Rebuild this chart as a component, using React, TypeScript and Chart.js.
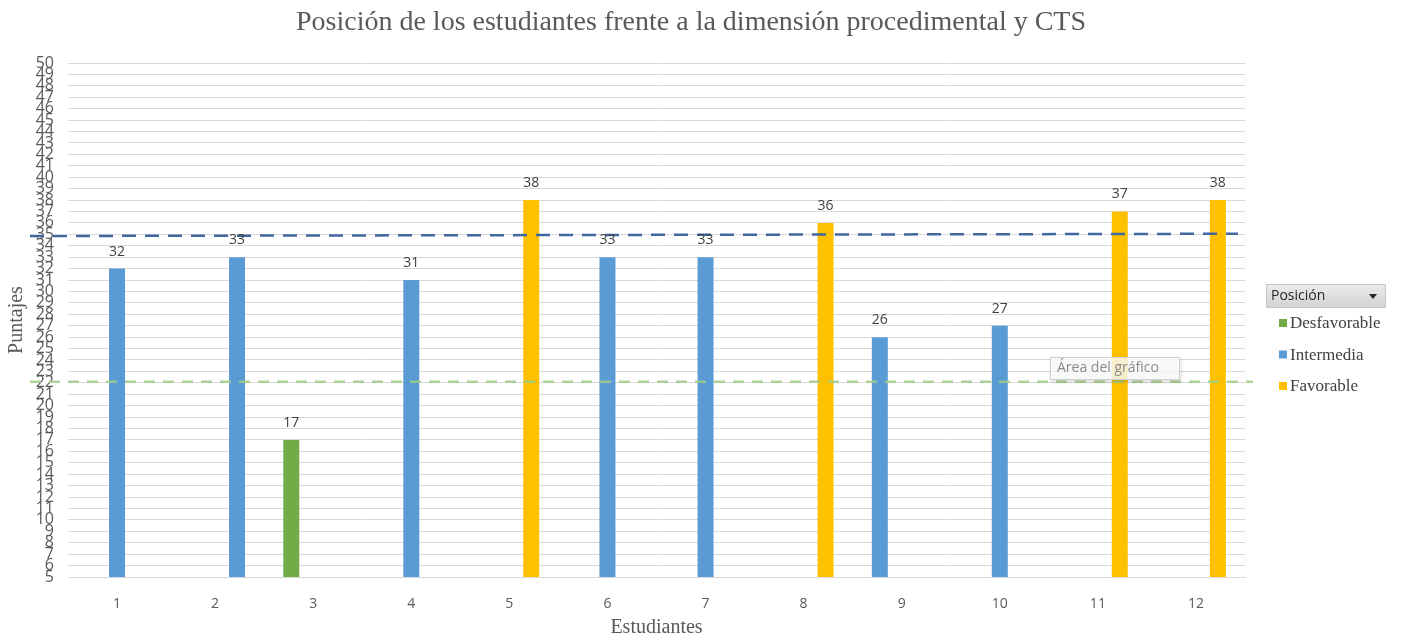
import React, { useEffect, useRef } from "react";
import { Chart, registerables } from "chart.js";

Chart.register(...registerables);

// Students (x categories) and their scores
const students = ["1", "2", "3", "4", "5", "6", "7", "8", "9", "10", "11", "12"];
const scores = [32, 33, 17, 31, 38, 33, 33, 36, 26, 27, 37, 38];
const positions = [
  "Intermedia", "Intermedia", "Desfavorable", "Intermedia", "Favorable", "Intermedia",
  "Intermedia", "Favorable", "Intermedia", "Intermedia", "Favorable", "Favorable",
];
// Which of the three clustered columns each student's bar falls in
const clusterColumn = [1, 2, 0, 1, 2, 1, 1, 2, 0, 1, 2, 2];

const positionNames = ["Desfavorable", "Intermedia", "Favorable"];
const positionColors: Record<string, string> = {
  Desfavorable: "#70AD47",
  Intermedia: "#5B9BD5",
  Favorable: "#FFC000",
};

// Score axis range
const yMin = 5;
const yMax = 50;

// Cut-off lines (value at left end, value at right end)
const upperCut = [34.85, 35.05];
const lowerCut = [22.1, 22.1];

const titleText = "Posición de los estudiantes frente a la dimensión procedimental y CTS";

const SERIF = "'Liberation Serif', 'Times New Roman', serif";
const SANS = "'Open Sans', 'Noto Sans', sans-serif";

const overlayPlugin = {
  id: "overlay",
  afterDatasetsDraw(chart: any) {
    const { ctx, chartArea, scales } = chart;
    const y = scales.y;

    // dashed cut-off lines
    const drawCut = (vals: number[], x0: number, x1: number, color: string, dash: number[]) => {
      ctx.save();
      ctx.strokeStyle = color;
      ctx.lineWidth = 2.5;
      ctx.setLineDash(dash);
      ctx.beginPath();
      ctx.moveTo(x0, y.getPixelForValue(vals[0]));
      ctx.lineTo(x1, y.getPixelForValue(vals[1]));
      ctx.stroke();
      ctx.restore();
    };
    drawCut(upperCut, chartArea.left - 38, chartArea.right - 7, "#41679F", [14, 9]);
    drawCut(lowerCut, chartArea.left - 38, chartArea.right + 8, "rgba(160,205,135,0.85)", [11, 8]);

    // value labels above bars
    ctx.save();
    ctx.font = `14px ${SANS}`;
    ctx.fillStyle = "#404040";
    ctx.textAlign = "center";
    ctx.textBaseline = "middle";
    chart.data.datasets.forEach((ds: any, di: number) => {
      const meta = chart.getDatasetMeta(di);
      meta.data.forEach((bar: any, i: number) => {
        const v = ds.data[i];
        if (v === null || v === undefined) return;
        ctx.fillText(String(v), bar.x, bar.y - 17);
      });
    });
    ctx.restore();
  },
  afterDraw(chart: any) {
    const { ctx, chartArea } = chart;

    // title
    ctx.save();
    ctx.font = `28px ${SERIF}`;
    ctx.fillStyle = "#595959";
    ctx.textAlign = "center";
    ctx.textBaseline = "middle";
    ctx.fillText(titleText, 691, 23);
    ctx.restore();

    // legend header
    const lx = chartArea.right + 21;
    const hy = 284;
    ctx.save();
    const grad = ctx.createLinearGradient(0, hy, 0, hy + 24);
    grad.addColorStop(0, "#ececec");
    grad.addColorStop(1, "#d2d2d2");
    ctx.fillStyle = grad;
    ctx.fillRect(lx, hy, 120, 24);
    ctx.strokeStyle = "#c6c6c6";
    ctx.lineWidth = 1;
    ctx.strokeRect(lx + 0.5, hy + 0.5, 119, 23);
    ctx.font = `14px ${SANS}`;
    ctx.fillStyle = "#262626";
    ctx.textBaseline = "middle";
    ctx.fillText("Posición", lx + 5, hy + 12);
    ctx.beginPath();
    ctx.moveTo(lx + 103, hy + 10);
    ctx.lineTo(lx + 111, hy + 10);
    ctx.lineTo(lx + 107, hy + 15);
    ctx.closePath();
    ctx.fill();

    // legend entries
    ctx.font = `17px ${SERIF}`;
    positionNames.forEach((name, k) => {
      const ey = 323 + k * 31.5;
      ctx.fillStyle = positionColors[name];
      ctx.fillRect(lx + 13, ey - 4, 8, 8);
      ctx.fillStyle = "#404040";
      ctx.fillText(name, lx + 24, ey + 1);
    });
    ctx.restore();

    // hover hint box
    ctx.save();
    const bx = 1050;
    const by = 357;
    ctx.shadowColor = "rgba(0,0,0,0.18)";
    ctx.shadowBlur = 4;
    ctx.shadowOffsetX = 1;
    ctx.shadowOffsetY = 2;
    ctx.fillStyle = "rgba(255,255,255,0.8)";
    ctx.fillRect(bx, by, 130, 23);
    ctx.shadowColor = "transparent";
    ctx.strokeStyle = "#d0d0d0";
    ctx.strokeRect(bx + 0.5, by + 0.5, 129, 22);
    ctx.font = `14px ${SANS}`;
    ctx.fillStyle = "#8c8c8c";
    ctx.textBaseline = "middle";
    ctx.fillText("Área del gráfico", bx + 7, by + 11.5);
    ctx.restore();
  },
};

export default function App() {
  const canvasRef = useRef<HTMLCanvasElement | null>(null);

  useEffect(() => {
    document.body.style.margin = "0";
    const canvas = canvasRef.current;
    if (!canvas) return;

    const datasets = [0, 1, 2].map((col) => ({
      label: `col${col}`,
      data: scores.map((v, i) => (clusterColumn[i] === col ? v : null)),
      backgroundColor: positions.map((p) => positionColors[p]),
      borderWidth: 0,
      categoryPercentage: 0.67,
      barPercentage: 0.73,
    }));

    const chart = new Chart(canvas, {
      type: "bar",
      data: { labels: students, datasets },
      options: {
        responsive: false,
        animation: false,
        layout: { padding: { top: 63, right: 157, left: 0, bottom: 0 } },
        plugins: {
          legend: { display: false },
          title: { display: false },
          tooltip: { enabled: false },
        },
        scales: {
          x: {
            grid: { display: false },
            border: { display: true, color: "#d9d9d9" },
            ticks: {
              color: "#595959",
              font: { family: SANS, size: 14 },
              padding: 11,
            },
            title: {
              display: true,
              text: "Estudiantes",
              color: "#595959",
              font: { family: SERIF, size: 20 },
              padding: { top: 0, bottom: 0 },
            },
            afterFit(scale: any) {
              scale.height = 63;
            },
          },
          y: {
            min: yMin,
            max: yMax,
            grid: { color: "#d9d9d9", drawTicks: false },
            border: { display: false },
            ticks: {
              stepSize: 1,
              autoSkip: false,
              color: "#595959",
              font: { family: SANS, size: 16, lineHeight: 1 },
              padding: 14,
            },
            title: {
              display: true,
              text: "Puntajes",
              color: "#595959",
              font: { family: SERIF, size: 20 },
              padding: { top: 5, bottom: 0 },
            },
            afterFit(scale: any) {
              scale.width = 68;
            },
          },
        },
      },
      plugins: [overlayPlugin],
    });

    return () => chart.destroy();
  }, []);

  return (
    <div style={{ width: 1402, height: 640, background: "#fff" }}>
      <canvas ref={canvasRef} width={1402} height={640} />
    </div>
  );
}
